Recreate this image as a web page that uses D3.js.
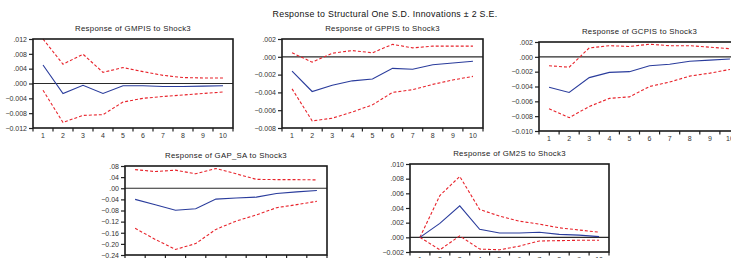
<!DOCTYPE html>
<html>
<head>
<meta charset="utf-8">
<script src="https://cdn.jsdelivr.net/npm/d3@7"></script>
<style>
  html, body { margin: 0; padding: 0; background: #fff; }
  svg { display: block; font-family: "Liberation Sans", Arial, sans-serif; }
</style>
</head>
<body>
<svg id="chart" width="731" height="258"></svg>
<script>
// ---- data ----
const periods = [1, 2, 3, 4, 5, 6, 7, 8, 9, 10];
const mainTitle = "Response to Structural One S.D. Innovations \u00b1 2 S.E.";
const titles = [
  "Response of GMPIS to Shock3",
  "Response of GPPIS to Shock3",
  "Response of GCPIS to Shock3",
  "Response of GAP_SA to Shock3",
  "Response of GM2S to Shock3"
];

const gmpisResp  = [0.0050, -0.0027, -0.0005, -0.0027, -0.0006, -0.0006, -0.0008, -0.0008, -0.0007, -0.0006];
const gmpisUpper = [0.0120, 0.0052, 0.0079, 0.0030, 0.0043, 0.0032, 0.0022, 0.0016, 0.0015, 0.0015];
const gmpisLower = [-0.0018, -0.0105, -0.0086, -0.0084, -0.0050, -0.0040, -0.0035, -0.0031, -0.0027, -0.0023];

const gppisResp  = [-0.0016, -0.0039, -0.0032, -0.0027, -0.0025, -0.0013, -0.0014, -0.0009, -0.0007, -0.0005];
const gppisUpper = [0.00045, -0.0006, 0.0004, 0.0007, 0.00045, 0.0014, 0.0010, 0.0012, 0.0012, 0.0012];
const gppisLower = [-0.0036, -0.0072, -0.0069, -0.0062, -0.0054, -0.0040, -0.0037, -0.0031, -0.0026, -0.0022];

const gcpisResp  = [-0.0041, -0.0048, -0.0028, -0.0021, -0.0020, -0.0012, -0.0010, -0.0006, -0.00045, -0.0003];
const gcpisUpper = [-0.0012, -0.0014, 0.0012, 0.0015, 0.0014, 0.0017, 0.0015, 0.0015, 0.0013, 0.0011];
const gcpisLower = [-0.0070, -0.0082, -0.0067, -0.0056, -0.0054, -0.0040, -0.0034, -0.0026, -0.0022, -0.0017];

const gapResp  = [-0.040, -0.059, -0.079, -0.074, -0.039, -0.035, -0.032, -0.019, -0.013, -0.008];
const gapUpper = [0.067, 0.060, 0.065, 0.052, 0.071, 0.052, 0.032, 0.031, 0.031, 0.030];
const gapLower = [-0.144, -0.184, -0.220, -0.199, -0.148, -0.118, -0.096, -0.070, -0.059, -0.047];

const gm2Resp  = [0.0000, 0.0019, 0.0043, 0.0011, 0.0006, 0.0006, 0.0007, 0.0004, 0.0003, 0.0001];
const gm2Upper = [0.0000, 0.0057, 0.0083, 0.0038, 0.0029, 0.0022, 0.0018, 0.0013, 0.0010, 0.0007];
const gm2Lower = [0.0000, -0.0017, 0.0002, -0.0016, -0.0017, -0.0012, -0.0005, -0.00045, -0.0004, -0.0004];

const ticks1 = [0.012, 0.008, 0.004, 0.000, -0.004, -0.008, -0.012];
const ticks2 = [0.002, 0.000, -0.002, -0.004, -0.006, -0.008];
const ticks3 = [0.002, 0.000, -0.002, -0.004, -0.006, -0.008, -0.010];
const ticks4 = [0.08, 0.04, 0.00, -0.04, -0.08, -0.12, -0.16, -0.20, -0.24];
const ticks5 = [0.010, 0.008, 0.006, 0.004, 0.002, 0.000, -0.002];

// ---- layout (positions only) ----
const panels = [
  { title: titles[0], resp: gmpisResp, up: gmpisUpper, lo: gmpisLower, ticks: ticks1, dec: 3, x: 33,  y: 39,  w: 200, h: 89 },
  { title: titles[1], resp: gppisResp, up: gppisUpper, lo: gppisLower, ticks: ticks2, dec: 3, x: 282, y: 39,  w: 201, h: 89 },
  { title: titles[2], resp: gcpisResp, up: gcpisUpper, lo: gcpisLower, ticks: ticks3, dec: 3, x: 539, y: 42,  w: 201, h: 89 },
  { title: titles[3], resp: gapResp,   up: gapUpper,   lo: gapLower,   ticks: ticks4, dec: 2, x: 125, y: 166, w: 202, h: 89 },
  { title: titles[4], resp: gm2Resp,   up: gm2Upper,   lo: gm2Lower,   ticks: ticks5, dec: 3, x: 410, y: 164, w: 199, h: 88 }
];

const svg = d3.select("#chart");

svg.append("text")
  .attr("x", 385).attr("y", 17)
  .attr("text-anchor", "middle")
  .attr("font-size", 8.8)
  .attr("letter-spacing", 0.3)
  .attr("fill", "#111")
  .text(mainTitle);

function fmt(dec) {
  const f = d3.format("." + dec + "f");
  return d => {
    let s = f(d);
    if (Math.abs(d) < 1e-12) s = f(0);
    return s.replace(/^(-?)0\./, "$1.");
  };
}

panels.forEach(p => {
  const g = svg.append("g").attr("transform", `translate(${p.x},${p.y})`);
  const x = d3.scaleBand().domain(periods).range([0, p.w]);
  const y = d3.scaleLinear().domain([d3.min(p.ticks), d3.max(p.ticks)]).range([p.h, 0]);
  const cx = d => x(d) + x.bandwidth() / 2;

  // title
  g.append("text")
    .attr("x", p.w / 2).attr("y", -8)
    .attr("text-anchor", "middle")
    .attr("font-size", 7.8)
    .attr("letter-spacing", 0.3)
    .attr("fill", "#222")
    .text(p.title);

  // y axis
  const yAxis = d3.axisLeft(y).tickValues(p.ticks).tickFormat(fmt(p.dec)).tickSize(4).tickPadding(2);
  const ya = g.append("g").call(yAxis);
  ya.select(".domain").remove();
  ya.selectAll("line").attr("stroke", "#222").attr("stroke-width", 1.2);
  ya.selectAll("text").attr("font-size", 7).attr("fill", "#333").attr("font-family", "Liberation Sans, Arial, sans-serif");

  // x axis: ticks at band boundaries, labels at centres
  const bounds = periods.slice(1).map(d => x(d));
  g.selectAll(".xt").data([0].concat(bounds).concat([p.w])).enter().append("line")
    .attr("x1", d => d).attr("x2", d => d)
    .attr("y1", p.h).attr("y2", p.h + 3.5)
    .attr("stroke", "#222").attr("stroke-width", 1.2);
  g.selectAll(".xl").data(periods).enter().append("text")
    .attr("x", d => cx(d)).attr("y", p.h + 10)
    .attr("text-anchor", "middle")
    .attr("font-size", 7).attr("fill", "#333")
    .text(d => d);

  // zero line
  g.append("line")
    .attr("x1", 0).attr("x2", p.w)
    .attr("y1", y(0)).attr("y2", y(0))
    .attr("stroke", "#2a2a2a").attr("stroke-width", 1.2);

  const line = d3.line().x((d, i) => cx(periods[i])).y(d => y(d));

  g.append("path").datum(p.up).attr("d", line)
    .attr("fill", "none").attr("stroke", "#e8232b").attr("stroke-width", 1.1)
    .attr("stroke-dasharray", "3,2");
  g.append("path").datum(p.lo).attr("d", line)
    .attr("fill", "none").attr("stroke", "#e8232b").attr("stroke-width", 1.1)
    .attr("stroke-dasharray", "3,2");
  g.append("path").datum(p.resp).attr("d", line)
    .attr("fill", "none").attr("stroke", "#2a3c9c").attr("stroke-width", 1.1);

  // frame
  g.append("rect")
    .attr("x", 0).attr("y", 0).attr("width", p.w).attr("height", p.h)
    .attr("fill", "none").attr("stroke", "#1a1a1a").attr("stroke-width", 1.6);
});
</script>
</body>
</html>
